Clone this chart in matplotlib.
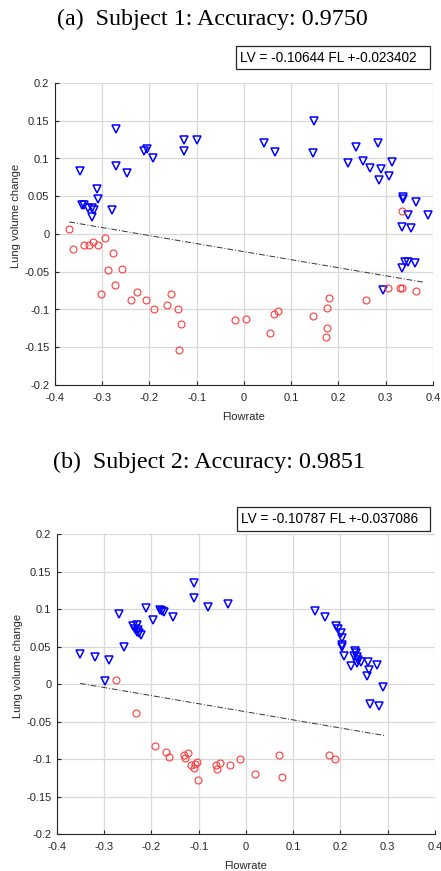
import matplotlib
matplotlib.use("Agg")
import matplotlib.pyplot as plt
from matplotlib.patches import Rectangle
import numpy as np

# ---- Subject 1 ----
s1_tri_x = [-0.348, -0.270, -0.270, -0.247, -0.211, -0.205, -0.192, -0.127, -0.127, -0.100,
            -0.312, -0.308, -0.343, -0.339, -0.331, -0.322, -0.318, -0.322, -0.280,
            0.148, 0.043, 0.066, 0.147, 0.238, 0.284, 0.221, 0.252, 0.267, 0.290, 0.313,
            0.307, 0.286, 0.337, 0.337, 0.363, 0.347, 0.389, 0.335, 0.353,
            0.294, 0.334, 0.341, 0.348, 0.362]
s1_tri_y = [0.083, 0.139, 0.090, 0.081, 0.110, 0.113, 0.100, 0.125, 0.110, 0.125,
            0.060, 0.047, 0.039, 0.038, 0.035, 0.034, 0.032, 0.022, 0.032,
            0.150, 0.120, 0.108, 0.107, 0.115, 0.121, 0.094, 0.097, 0.087, 0.086, 0.095,
            0.077, 0.071, 0.049, 0.046, 0.043, 0.025, 0.025, 0.009, 0.008,
            -0.074, -0.045, -0.037, -0.037, -0.039]
s1_circ_x = [-0.370, -0.361, -0.338, -0.328, -0.319, -0.309, -0.295, -0.277, -0.287, -0.259,
             -0.273, -0.303, -0.239, -0.226, -0.207, -0.190, -0.163, -0.154, -0.140, -0.133,
             -0.138, -0.018, 0.004, 0.054, 0.063, 0.073, 0.147, 0.175, 0.180, 0.175,
             0.173, 0.258, 0.304, 0.330, 0.335, 0.363, 0.335]
s1_circ_y = [0.007, -0.020, -0.015, -0.015, -0.010, -0.015, -0.005, -0.025, -0.048, -0.047,
             -0.067, -0.080, -0.088, -0.077, -0.087, -0.100, -0.094, -0.079, -0.100, -0.119,
             -0.153, -0.114, -0.112, -0.131, -0.106, -0.102, -0.108, -0.098, -0.085, -0.124,
             -0.137, -0.087, -0.072, -0.071, -0.072, -0.076, 0.030]
s1_slope, s1_icpt = -0.10644, -0.023402
s1_line_x = [-0.370, 0.379]

# ---- Subject 2 ----
s2_tri_x = [-0.351, -0.319, -0.289, -0.258, -0.268, -0.240, -0.231, -0.235, -0.228, -0.231,
            -0.226, -0.223, -0.212, -0.197, -0.182, -0.178, -0.173, -0.154, -0.111, -0.111,
            -0.081, -0.039, -0.299,
            0.146, 0.167, 0.190, 0.195, 0.201, 0.204, 0.204, 0.203, 0.208, 0.222, 0.231,
            0.232, 0.228, 0.234, 0.238, 0.243, 0.258, 0.278, 0.235, 0.261, 0.256, 0.291,
            0.263, 0.282]
s2_tri_y = [0.040, 0.036, 0.032, 0.049, 0.093, 0.077, 0.079, 0.074, 0.072, 0.070,
            0.068, 0.065, 0.101, 0.085, 0.099, 0.098, 0.096, 0.090, 0.135, 0.115,
            0.103, 0.107, 0.004,
            0.097, 0.090, 0.078, 0.074, 0.068, 0.061, 0.052, 0.049, 0.037, 0.024, 0.044,
            0.041, 0.038, 0.036, 0.032, 0.030, 0.030, 0.025, 0.028, 0.019, 0.011, -0.004,
            -0.026, -0.029]
s2_circ_x = [-0.275, -0.233, -0.192, -0.170, -0.164, -0.132, -0.130, -0.122, -0.116, -0.110,
             -0.107, -0.104, -0.101, -0.063, -0.061, -0.054, -0.033, -0.013, 0.020, 0.070,
             0.076, 0.176, 0.189]
s2_circ_y = [0.005, -0.039, -0.082, -0.090, -0.097, -0.094, -0.099, -0.092, -0.108, -0.112,
             -0.106, -0.104, -0.128, -0.108, -0.113, -0.105, -0.108, -0.100, -0.120, -0.095,
             -0.124, -0.095, -0.100]
s2_slope, s2_icpt = -0.10787, -0.037086
s2_line_x = [-0.351, 0.292]

tick_c = "#262626"
plt.rcParams["font.family"] = ["Liberation Sans", "DejaVu Sans"]

W, H = 441, 871
fig = plt.figure(figsize=(W / 100, H / 100), dpi=100)


def panel(rect, tx, ty, cx, cy, slope, icpt, lx):
    ax = fig.add_axes(rect)
    ax.plot(tx, ty, "v", ms=6.0, mfc="none", mec="#0000ff", mew=1.1)
    ax.plot(cx, cy, "o", ms=5.0, mfc="none", mec="#ff3b3b", mew=0.8)
    lx = np.array(lx)
    ax.plot(lx, slope * lx + icpt, color="#333333", lw=0.7, ls=(0, (6, 2, 1, 2)))
    ax.set_xlim(-0.4, 0.4)
    ax.set_ylim(-0.2, 0.2)
    ax.set_xticks(np.arange(-0.4, 0.41, 0.1))
    ax.set_yticks(np.arange(-0.2, 0.21, 0.05))
    ax.set_xticklabels(["-0.4", "-0.3", "-0.2", "-0.1", "0", "0.1", "0.2", "0.3", "0.4"])
    ax.set_yticklabels(["-0.2", "-0.15", "-0.1", "-0.05", "0", "0.05", "0.1", "0.15", "0.2"])
    ax.grid(True, color="#d9d9d9", lw=0.9)
    ax.set_axisbelow(True)
    for s in ["top", "right"]:
        ax.spines[s].set_visible(False)
    for s in ["left", "bottom"]:
        ax.spines[s].set_color(tick_c)
        ax.spines[s].set_linewidth(0.8)
    ax.tick_params(direction="in", length=3, width=0.8, color=tick_c,
                   labelcolor=tick_c, labelsize=8)
    ax.tick_params(axis="x", pad=6)
    ax.tick_params(axis="y", pad=4)
    ax.set_xlabel("Flowrate", fontsize=8, color=tick_c, labelpad=6)
    ax.set_ylabel("Lung volume change", fontsize=8, color=tick_c)
    ax.yaxis.set_label_coords(-0.09, 0.56)
    return ax


panel([55 / W, 1 - 385 / H, 378 / W, 302 / H],
      s1_tri_x, s1_tri_y, s1_circ_x, s1_circ_y, s1_slope, s1_icpt, s1_line_x)
panel([57 / W, 1 - 834 / H, 378 / W, 300 / H],
      s2_tri_x, s2_tri_y, s2_circ_x, s2_circ_y, s2_slope, s2_icpt, s2_line_x)

title_font = dict(family=["Liberation Serif", "DejaVu Serif"], fontsize=17.3, ha="center", va="center")
fig.text(212 / W, 1 - 19 / H, "(a)  Subject 1: Accuracy: 0.9750", **title_font)
fig.text(209 / W, 1 - 462 / H, "(b)  Subject 2: Accuracy: 0.9851", **title_font)


def eq_box(x0, x1, y0, y1, txt):
    fig.patches.append(Rectangle((x0 / W, 1 - y1 / H), (x1 - x0) / W, (y1 - y0) / H,
                                 transform=fig.transFigure, fc="white", ec=tick_c, lw=0.9))
    fig.text((x0 + 4) / W, 1 - (y0 + y1) / 2 / H, txt, fontsize=9.8, ha="left", va="center")


eq_box(236, 430, 46, 69, f"LV = {s1_slope} FL +{s1_icpt}")
eq_box(237, 430, 507, 531, f"LV = {s2_slope} FL +{s2_icpt}")

fig.savefig("out.png", dpi=100)
